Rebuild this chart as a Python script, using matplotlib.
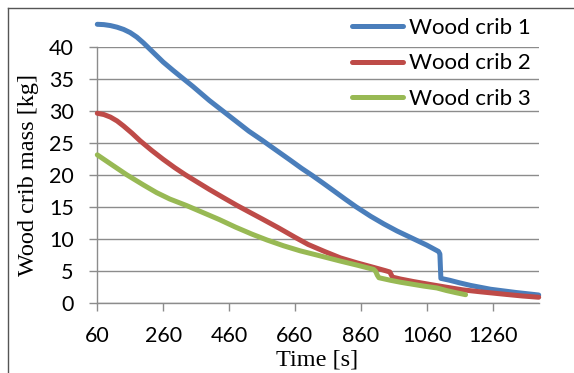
import matplotlib
matplotlib.use("Agg")
import matplotlib.pyplot as plt
from matplotlib.lines import Line2D

# Wood crib mass over time
t1 = [60, 80, 100, 120, 140, 160, 180, 200, 220, 240, 260, 290, 321, 350, 375, 400,
      440, 480, 520, 560, 590, 645, 680, 712, 745, 780, 812, 845, 890, 930,
      970, 1015, 1060, 1096, 1100, 1103, 1130, 1160, 1193, 1254, 1330, 1400]
m1 = [43.5, 43.45, 43.3, 43.05, 42.7, 42.2, 41.5, 40.6, 39.6, 38.6, 37.6, 36.3,
      35.0, 33.8, 32.7, 31.6, 30.0, 28.4, 26.8, 25.4, 24.3, 22.3, 21.0, 19.9,
      18.7, 17.4, 16.2, 15.0, 13.5, 12.3, 11.2, 10.1, 9.0, 8.0, 7.6, 3.8, 3.5, 3.1,
      2.7, 2.1, 1.6, 1.2]

t2 = [60, 80, 100, 120, 140, 165, 190, 225, 260, 295, 327, 365, 400, 440, 484, 520,
      560, 610, 661, 700, 750, 798, 850, 900, 935, 948, 952, 956, 980, 1020, 1070,
      1122, 1170, 1223, 1300, 1350, 1400]
m2 = [29.6, 29.4, 29.0, 28.4, 27.6, 26.5, 25.3, 23.8, 22.4, 21.1, 20.0, 18.8, 17.7,
      16.5, 15.2, 14.2, 13.1, 11.7, 10.2, 9.1, 8.0, 7.0, 6.2, 5.5, 5.0, 4.8, 4.4,
      4.0, 3.7, 3.3, 2.85, 2.4, 2.0, 1.7, 1.3, 1.05, 0.85]

t3 = [60, 100, 149, 200, 240, 280, 330, 380, 430, 480, 530, 575, 625, 676, 730, 798,
      850, 899, 905, 910, 915, 950, 980, 1050, 1091, 1120, 1150, 1178]
m3 = [23.1, 21.7, 20.0, 18.4, 17.2, 16.2, 15.2, 14.1, 13.0, 11.8, 10.7, 9.8, 8.9,
      8.1, 7.4, 6.5, 5.85, 5.2, 4.9, 4.3, 3.9, 3.5, 3.2, 2.6, 2.3, 1.9, 1.55, 1.25]

labels = ["Wood crib 1", "Wood crib 2", "Wood crib 3"]
colors = ["#4A7EBB", "#BE4B48", "#98B954"]
xticks = [60, 260, 460, 660, 860, 1060, 1260]
yticks = [0, 5, 10, 15, 20, 25, 30, 35, 40]

sans = ["Lato", "DejaVu Sans"]
serif = ["Liberation Serif", "DejaVu Serif"]

fig = plt.figure(figsize=(5.74, 3.73), dpi=100)
ax = fig.add_axes([0.1695, 0.1885, 0.769, 0.6863])

for t, m, c, lab in zip([t1, t2, t3], [m1, m2, m3], colors, labels):
    ax.plot(t, m, color=c, lw=3.6, label=lab, clip_on=False,
            solid_capstyle="round", solid_joinstyle="round", zorder=3)

ax.set_xlim(60, 1400)
ax.set_ylim(0, 40)
ax.set_xticks(xticks)
ax.set_yticks(yticks)
ax.grid(axis="y", color="#8c8c8c", lw=1.0)
ax.set_axisbelow(True)
for s in ["top", "right"]:
    ax.spines[s].set_visible(False)
for s in ["left", "bottom"]:
    ax.spines[s].set_color("#8c8c8c")
    ax.spines[s].set_linewidth(1.0)
ax.tick_params(axis="both", color="#8c8c8c", width=1.0, labelsize=15.5)
ax.tick_params(axis="y", length=6, pad=11)
ax.tick_params(axis="x", length=6, pad=11)
for lbl in ax.get_xticklabels() + ax.get_yticklabels():
    lbl.set_family(sans)

ax.set_xlabel("Time [s]", family=serif, fontsize=17.5)
ax.xaxis.set_label_coords(0.498, -0.224)
ax.xaxis.label.set_va("center")
ax.set_ylabel("Wood crib mass [kg]", family=serif, fontsize=17.5)
ax.yaxis.set_label_coords(-0.155, 0.5)
ax.yaxis.label.set_va("center")

leg = ax.legend(loc="upper left", bbox_to_anchor=(0.594, 0.982),
                bbox_transform=fig.transFigure, frameon=False,
                prop={"family": sans, "size": 16}, handlelength=2.3,
                handletextpad=0.25, labelspacing=0.7, borderpad=0)
for h in leg.get_lines():
    h.set_linewidth(3.6)
    h.set_solid_capstyle("round")

# chart border
fig.add_artist(Line2D([7.5 / 574, 1], [1 - 7.5 / 373] * 2, color="#555555", lw=1.0))
fig.add_artist(Line2D([7.5 / 574] * 2, [0, 1 - 7.5 / 373], color="#555555", lw=1.0))

fig.savefig("out.png", dpi=100)
